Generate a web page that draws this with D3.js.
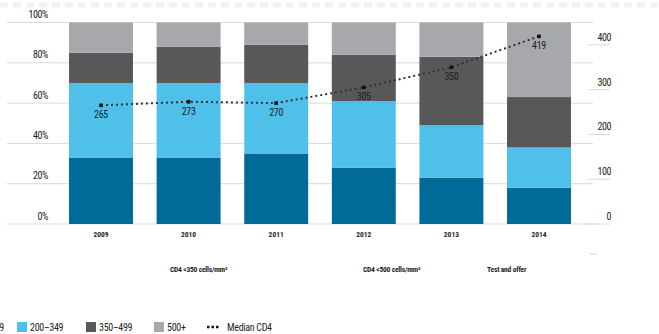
<!DOCTYPE html>
<html>
<head>
<meta charset="utf-8">
<script src="https://cdn.jsdelivr.net/npm/d3@7/dist/d3.min.js"></script>
<style>
  html, body { margin: 0; padding: 0; background: #fff; }
  svg { display: block; }
  text { font-family: "Liberation Sans Narrow", "Roboto Condensed", "Liberation Sans", sans-serif; fill: #231f20; }
</style>
</head>
<body>
<svg id="chart" width="659" height="334"></svg>
<script>
// Years on the x axis
const years = ["2009", "2010", "2011", "2012", "2013", "2014"];
// CD4 count bands (share of people, %)
const bandNames = ["0–199", "200–349", "350–499", "500+"];
const band0_199   = [33, 33, 35, 28, 23, 18];
const band200_349 = [37, 37, 35, 33, 26, 20];
const band350_499 = [15, 18, 19, 23, 34, 25];
const band500plus = [15, 12, 11, 16, 17, 37];
// Median CD4 count (cells/mm³), right axis
const medianCD4 = [265, 273, 270, 305, 350, 419];
// Axis ticks
const pctTicks = [0, 20, 40, 60, 80, 100];
const cd4Ticks = [0, 100, 200, 300, 400];
// Eligibility periods shown under the years
const periodLabels = ["CD4 <350 cells/mm³", "CD4 <500 cells/mm³", "Test and offer"];
const bandColors = ["#006a98", "#4fc0ea", "#58585a", "#a7a8ab"];

const svg = d3.select("#chart");
const plotTop = 22.5, plotBottom = 224;

const x = d3.scaleBand().domain(years).range([57.2, 582.8]).paddingInner(0.27).paddingOuter(0.135);
const yPct = d3.scaleLinear().domain([0, 100]).range([plotBottom, plotTop]);
const yCd4 = d3.scaleLinear().domain([0, 450]).range([plotBottom, plotTop]);

// faint dashed strip along the top edge
svg.append("line").attr("x1", 0).attr("x2", 659).attr("y1", 5).attr("y2", 5)
  .attr("stroke", "#eef2f6").attr("stroke-width", 5).attr("stroke-dasharray", "8,5");

// percentage gridlines
svg.append("g").selectAll("line").data(pctTicks).join("line")
  .attr("x1", 7).attr("x2", 593)
  .attr("y1", d => yPct(d)).attr("y2", d => yPct(d))
  .attr("stroke", "#d9d9d9").attr("stroke-width", 1);

svg.append("g").selectAll("text").data(pctTicks).join("text")
  .attr("x", 48).attr("y", d => yPct(d) - 4.5)
  .attr("text-anchor", "end").attr("font-size", 10).attr("letter-spacing", -0.4)
  .text(d => d + "%");

// stacked bars
const rows = years.map((yr, i) => ({
  year: yr,
  "0–199": band0_199[i], "200–349": band200_349[i], "350–499": band350_499[i], "500+": band500plus[i]
}));
const stacked = d3.stack().keys(bandNames)(rows);
svg.append("g").selectAll("g").data(stacked).join("g")
  .attr("fill", (d, i) => bandColors[i])
  .selectAll("rect").data(d => d).join("rect")
  .attr("x", d => x(d.data.year))
  .attr("width", x.bandwidth())
  .attr("y", d => yPct(d[1]))
  .attr("height", d => yPct(d[0]) - yPct(d[1]));

// right axis (median CD4)
svg.append("g").selectAll("line").data(cd4Ticks).join("line")
  .attr("x1", 588).attr("x2", 610)
  .attr("y1", d => yCd4(d)).attr("y2", d => yCd4(d))
  .attr("stroke", "#d9d9d9").attr("stroke-width", 1);
svg.append("g").selectAll("text").data(cd4Ticks).join("text")
  .attr("x", 611).attr("y", d => yCd4(d) - 4)
  .attr("text-anchor", "end").attr("font-size", 10).attr("letter-spacing", -0.4)
  .text(d => d);
svg.append("line").attr("x1", 590).attr("x2", 597).attr("y1", 254).attr("y2", 254)
  .attr("stroke", "#d0d0d0").attr("stroke-width", 1);

// median CD4 dotted line
const cx = d => x(d) + x.bandwidth() / 2;
const line = d3.line().x((d, i) => cx(years[i])).y(d => yCd4(d));
svg.append("path").datum(medianCD4).attr("d", line)
  .attr("fill", "none").attr("stroke", "#333").attr("stroke-width", 2)
  .attr("stroke-dasharray", "2,3");
svg.append("g").selectAll("rect").data(medianCD4).join("rect")
  .attr("x", (d, i) => cx(years[i]) - 1.8).attr("y", d => yCd4(d) - 1.8)
  .attr("width", 3.6).attr("height", 3.6).attr("fill", "#111");
svg.append("g").selectAll("text").data(medianCD4).join("text")
  .attr("x", (d, i) => cx(years[i])).attr("y", d => yCd4(d) + 13)
  .attr("text-anchor", "middle").attr("font-size", 10).attr("letter-spacing", -0.3)
  .text(d => d);

// year labels
svg.append("g").selectAll("text").data(years).join("text")
  .attr("x", d => cx(d)).attr("y", 237)
  .attr("text-anchor", "middle").attr("font-size", 7.5).attr("font-weight", "bold")
  .text(d => d);

// eligibility period labels
const periodX = [170, 363, 487];
svg.append("g").selectAll("text").data(periodLabels).join("text")
  .attr("x", (d, i) => periodX[i]).attr("y", 272)
  .attr("font-size", 7.5).attr("font-weight", "bold").attr("letter-spacing", -0.2)
  .text(d => d);

// legend (the row starts left of the visible area)
const legendItems = [
  { label: "0–199", color: bandColors[0], x: -33 },
  { label: "200–349", color: bandColors[1], x: 17 },
  { label: "350–499", color: bandColors[2], x: 86 },
  { label: "500+", color: bandColors[3], x: 154 }
];
const lg = svg.append("g");
legendItems.forEach(it => {
  lg.append("rect").attr("x", it.x).attr("y", 322).attr("width", 10).attr("height", 10).attr("fill", it.color);
  lg.append("text").attr("x", it.x + 13).attr("y", 331).attr("font-size", 10).attr("letter-spacing", -0.3).text(it.label);
});
lg.append("line").attr("x1", 207).attr("x2", 219).attr("y1", 327).attr("y2", 327)
  .attr("stroke", "#111").attr("stroke-width", 2.5).attr("stroke-dasharray", "2.5,2");
lg.append("text").attr("x", 227).attr("y", 331).attr("font-size", 10).attr("letter-spacing", -0.3).text("Median CD4");
</script>
</body>
</html>
